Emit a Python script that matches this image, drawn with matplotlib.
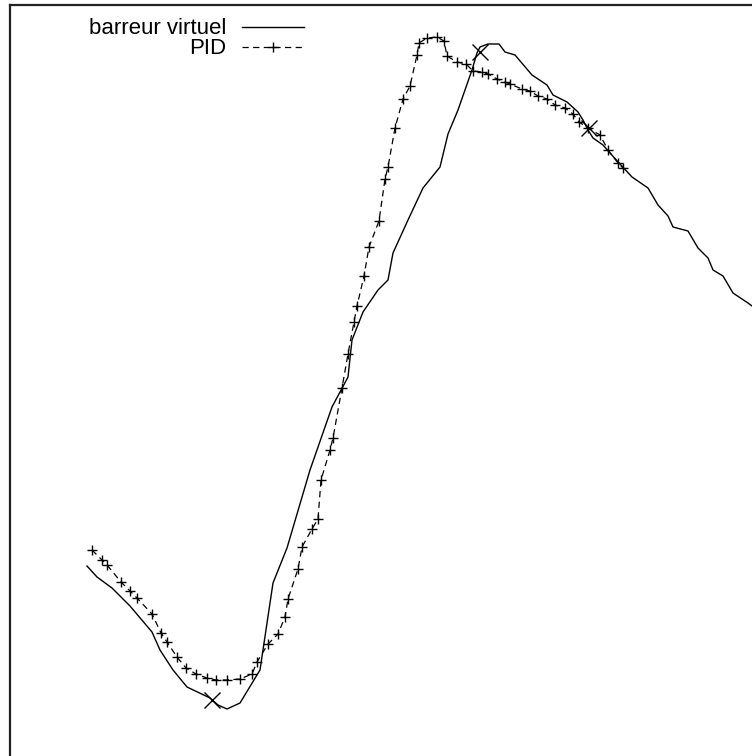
"""Barreur virtuel vs PID : trajectoire comparée"""

import matplotlib
matplotlib.use("Agg")
import matplotlib.pyplot as plt

plt.rcParams['font.family'] = ['Liberation Sans', 'DejaVu Sans']

# barreur virtuel (trait plein)
bv_x = [87, 97, 112, 130, 152, 160, 173, 187, 210, 218, 227, 240, 260, 273, 287,
        310, 332, 348, 352, 363, 378, 388, 393, 408, 423, 440, 448, 458, 472, 477,
        480, 488, 499, 505, 515, 532, 547, 553, 567, 578, 583, 588, 593, 603, 610,
        620, 632, 648, 658, 668, 673, 688, 698, 708, 713, 723, 733, 748, 760]
bv_y = [566, 577, 588, 606, 632, 650, 670, 687, 698, 705, 709, 703, 670, 583, 548,
        470, 407, 377, 340, 312, 290, 280, 253, 220, 188, 167, 134, 110, 70, 53,
        47, 44, 44, 52, 55, 75, 85, 95, 102, 112, 120, 130, 138, 145, 153,
        164, 177, 188, 205, 216, 227, 231, 248, 258, 270, 276, 293, 303, 312]

# PID (tirets + croix)
pid_x = [92, 102, 107, 121, 130, 137, 152, 161, 167, 177, 186, 196, 207, 216,
         227, 240, 252, 257, 268, 278, 285, 288, 298, 302, 312, 318, 321, 330,
         333, 342, 348, 354, 357, 364, 369, 379, 385, 388, 395, 403, 410, 417,
         419, 427, 437, 444, 447, 457, 466, 473, 482, 488, 497, 505, 510, 522,
         530, 538, 547, 555, 565, 573, 579, 588, 600, 608, 618, 623]
pid_y = [550, 560, 565, 582, 591, 598, 614, 633, 642, 657, 668, 674, 678, 680,
         680, 679, 674, 662, 644, 634, 617, 599, 569, 547, 529, 519, 480, 450,
         438, 388, 354, 322, 306, 276, 247, 221, 179, 167, 128, 99, 86, 55,
         43, 38, 37, 41, 56, 62, 64, 71, 72, 74, 79, 82, 84, 89,
         91, 96, 99, 105, 108, 114, 122, 128, 135, 150, 163, 168]

# points remarquables (grandes croix)
pts_x = [212, 480, 589]
pts_y = [700, 52, 128]

fig = plt.figure(figsize=(7.52, 7.56), dpi=100)
# cadre qui deborde a droite et en bas comme sur l'original
ax = fig.add_axes([10 / 752, -4 / 756, 746 / 752, 755 / 756])

ax.plot(bv_x, bv_y, color='black', linewidth=1.0, label='barreur virtuel')
ax.plot(pid_x, pid_y, color='black', linewidth=0.9, dashes=(5, 3.5),
        marker='+', markersize=7, markeredgewidth=1.0, label='PID')
ax.plot(pts_x, pts_y, linestyle='none', color='black', marker='x',
        markersize=12, markeredgewidth=1.0)

ax.set_xlim(10, 756)
ax.set_ylim(760, 5)
ax.set_xticks([])
ax.set_yticks([])
for s in ax.spines.values():
    s.set_linewidth(1.6)
    s.set_color('#222222')

ax.legend(loc='upper right', bbox_to_anchor=(304, 18.5), bbox_transform=ax.transData,
          frameon=False, markerfirst=False, fontsize=16, handlelength=2.8,
          handletextpad=0.68, labelspacing=-0.05, borderpad=0, borderaxespad=0)

fig.savefig('out.png', dpi=100)
